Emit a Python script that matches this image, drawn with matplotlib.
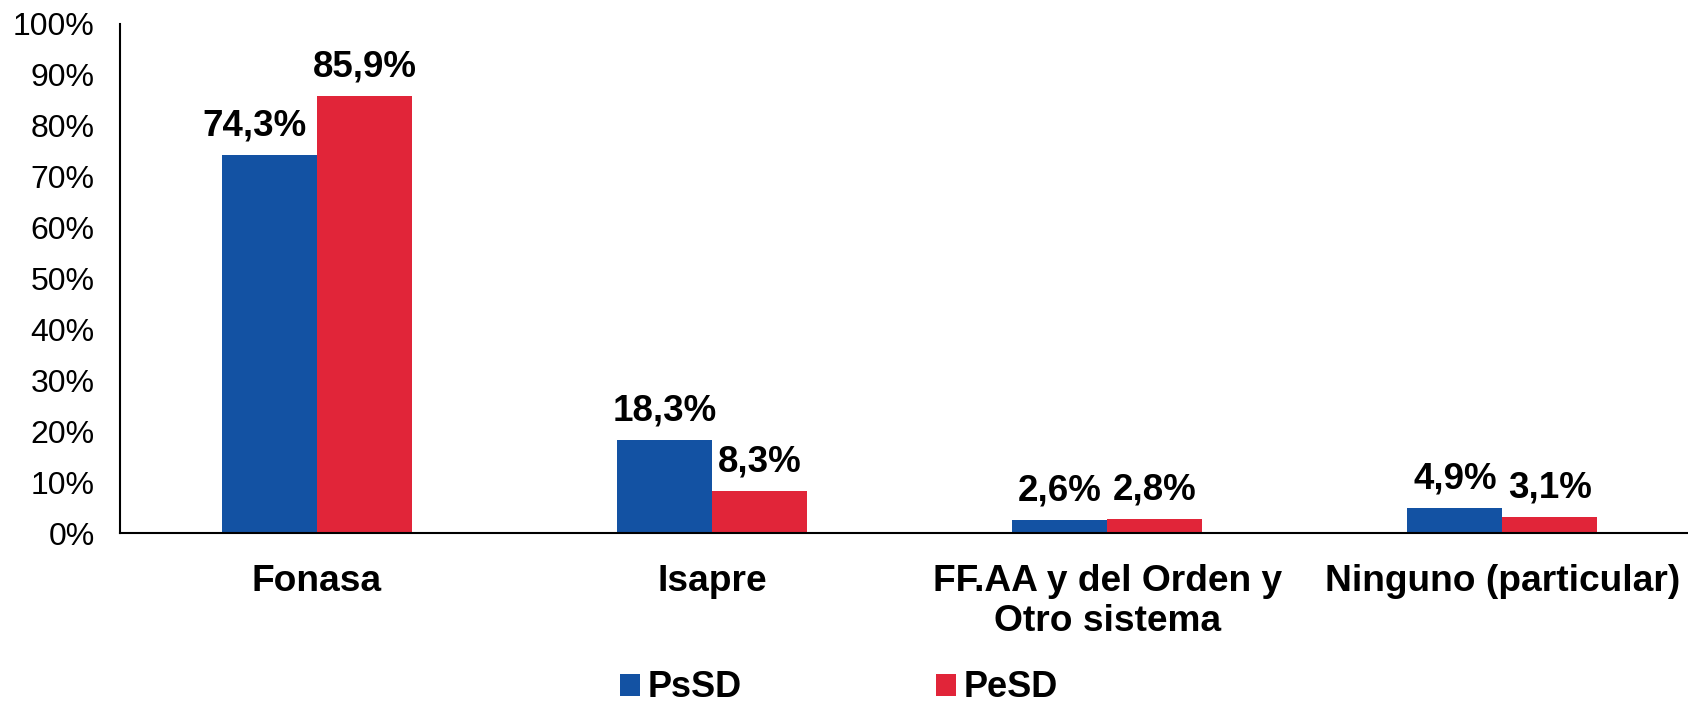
import numpy as np
import matplotlib
matplotlib.use("Agg")
import matplotlib.pyplot as plt
from matplotlib.ticker import FuncFormatter

plt.rcParams['font.family'] = ['Liberation Sans', 'DejaVu Sans']

# data
categories = ["Fonasa", "Isapre", "FF.AA y del Orden y\nOtro sistema", "Ninguno (particular)"]
series_names = ["PsSD", "PeSD"]
pssd = [74.3, 18.3, 2.6, 4.9]
pesd = [85.9, 8.3, 2.8, 3.1]

blue = "#1352A3"
red = "#E12539"

fig = plt.figure(figsize=(16.88, 7.07), dpi=100, facecolor="white")
# axes runs slightly past the right edge, like the original
ax = fig.add_axes([0.0708, 0.246, 0.9362, 0.7205])

x = np.arange(len(categories))
w = 0.24

b1 = ax.bar(x - w/2, pssd, w, color=blue, label=series_names[0])
b2 = ax.bar(x + w/2, pesd, w, color=red, label=series_names[1])

def fmt(v):
    return f"{v:.1f}".replace(".", ",") + "%"

# small horizontal nudges (pixels) for a few labels, as in the original
nudge1 = [-15, 0, 0, 0]
for bars, vals, nudge in [(b1, pssd, nudge1), (b2, pesd, [0, 0, 0, 0])]:
    for b, v, dx in zip(bars, vals, nudge):
        ax.annotate(fmt(v), (b.get_x() + b.get_width()/2, v),
                    xytext=(dx * 0.72, 14), textcoords="offset points",
                    ha="center", va="baseline", fontsize=26.5, fontweight="bold")

ax.set_xlim(-0.5, len(categories) - 0.5)
ax.set_ylim(0, 100)
ax.set_yticks(np.arange(0, 101, 10))
ax.yaxis.set_major_formatter(FuncFormatter(lambda v, p: f"{v:.0f}%"))
ax.tick_params(axis="y", length=0, pad=18, labelsize=23)
ax.set_xticks(x)
ax.set_xticklabels(categories, fontsize=26.7, fontweight="bold", linespacing=1.2)
ax.tick_params(axis="x", length=0, pad=22)

for s in ["top", "right"]:
    ax.spines[s].set_visible(False)
for s in ["left", "bottom"]:
    ax.spines[s].set_linewidth(1.5)
    ax.spines[s].set_color("black")

fig.legend(handles=[b1, b2], labels=series_names, loc="center",
           bbox_to_anchor=(0.497, 0.027), ncol=2, frameon=False,
           prop={"weight": "bold", "size": 26},
           handlelength=0.55, handleheight=0.55, handletextpad=0.2,
           columnspacing=5.4)

fig.savefig("out.png", dpi=100, facecolor="white")
